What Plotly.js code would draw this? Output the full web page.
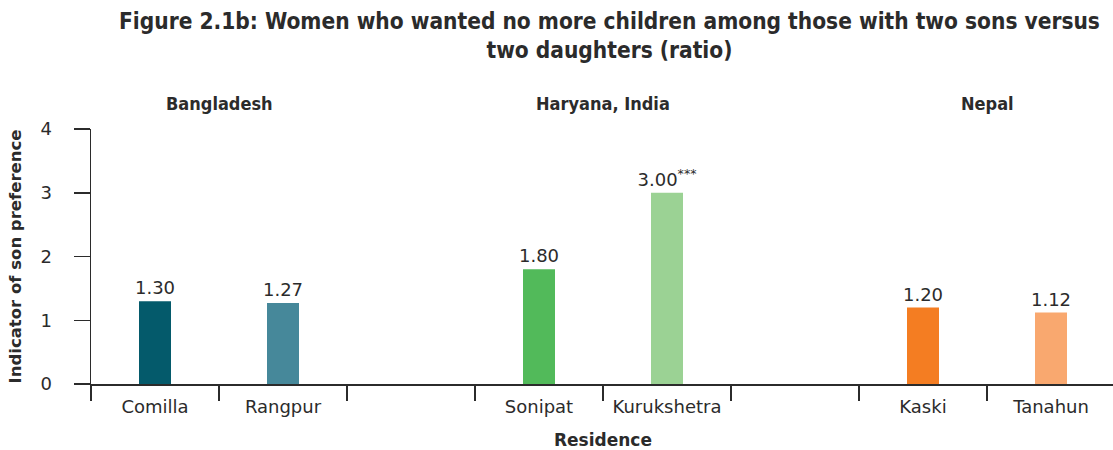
<!DOCTYPE html>
<html>
<head>
<meta charset="utf-8">
<script src="https://cdn.plot.ly/plotly-3.0.1.min.js"></script>
<style>
  html, body { margin: 0; padding: 0; background: #fff; overflow: hidden; }
  #chart { width: 1115px; height: 450px; }
</style>
</head>
<body>
<div id="chart"></div>
<script>
// Districts by country; the blank slots keep a gap between country groups
const districts = ['Comilla', 'Rangpur', ' ', 'Sonipat', 'Kurukshetra', '  ', 'Kaski', 'Tanahun'];
const ratios = [1.30, 1.27, null, 1.80, 3.00, null, 1.20, 1.12];
const ratioLabels = ['1.30', '1.27', '', '1.80', '3.00<sup>***</sup>', '', '1.20', '1.12'];
const barColors = ['#045A6B', '#46889A', '#ffffff', '#52BA5A', '#9BD294', '#ffffff', '#F47D22', '#F9A86F'];

// Country headings, centred over their pair of districts
const countries = ['Bangladesh', 'Haryana, India', 'Nepal'];
const countryCentres = [0.5, 3.5, 6.5];

const chartTitle = 'Figure 2.1b: Women who wanted no more children among those with two sons versus<br>two daughters (ratio)';

const ink = '#2b2b2b';
const bodyFont = 'DejaVu Sans, sans-serif';
const headFont = 'DejaVu Sans Condensed, DejaVu Sans, sans-serif';

const W = 1115, H = 450;
const M = { l: 91, r: 0, t: 129, b: 66 };
const plotW = W - M.l - M.r;
const plotH = H - M.t - M.b;
// pixel helpers for text placed around the plot area
const px2paperX = px => (px - M.l) / plotW;
const px2paperY = py => 1 + (M.t - py) / plotH;

const trace = {
  type: 'bar',
  x: districts,
  y: ratios,
  width: 0.25,
  marker: { color: barColors, line: { width: 0 } },
  text: ratioLabels,
  texttemplate: '%{text}',
  textposition: 'outside',
  constraintext: 'none',
  cliponaxis: false,
  textfont: { family: bodyFont, size: 18, color: ink },
  hoverinfo: 'x+y'
};

const headings = countries.map((name, i) => ({
  text: name,
  x: countryCentres[i],
  xref: 'x',
  y: px2paperY(104),
  yref: 'paper',
  yanchor: 'middle',
  showarrow: false,
  font: { family: headFont, size: 18, color: ink, weight: 'bold' }
}));

const titleNote = {
  text: chartTitle,
  x: px2paperX(609),
  xref: 'paper',
  xanchor: 'center',
  y: px2paperY(6),
  yref: 'paper',
  yanchor: 'top',
  align: 'center',
  showarrow: false,
  font: { family: headFont, size: 22.5, color: ink, weight: 'bold' }
};

const layout = {
  width: W,
  height: H,
  margin: M,
  paper_bgcolor: '#ffffff',
  plot_bgcolor: '#ffffff',
  showlegend: false,
  xaxis: {
    type: 'category',
    categoryorder: 'array',
    categoryarray: districts,
    tickson: 'boundaries',
    ticks: 'outside',
    ticklen: 15,
    tickwidth: 1.5,
    tickcolor: ink,
    ticklabelstandoff: 6,
    showline: true,
    linecolor: ink,
    linewidth: 1.5,
    showgrid: false,
    zeroline: false,
    tickfont: { family: bodyFont, size: 18, color: ink },
    title: {
      text: 'Residence',
      font: { family: bodyFont, size: 17, color: ink, weight: 'bold' },
      standoff: 18
    }
  },
  yaxis: {
    range: [0, 4],
    tickvals: [0, 1, 2, 3, 4],
    ticks: 'outside',
    ticklen: 16,
    tickwidth: 1.5,
    tickcolor: ink,
    ticklabelstandoff: 18,
    showline: true,
    linecolor: ink,
    linewidth: 1.5,
    showgrid: false,
    zeroline: false,
    tickfont: { family: bodyFont, size: 18, color: ink },
    title: {
      text: 'Indicator of son preference',
      font: { family: bodyFont, size: 16.5, color: ink, weight: 'bold' },
      standoff: 14
    }
  },
  annotations: [titleNote].concat(headings)
};

Plotly.newPlot('chart', [trace], layout, { displayModeBar: false, staticPlot: true });
</script>
</body>
</html>
